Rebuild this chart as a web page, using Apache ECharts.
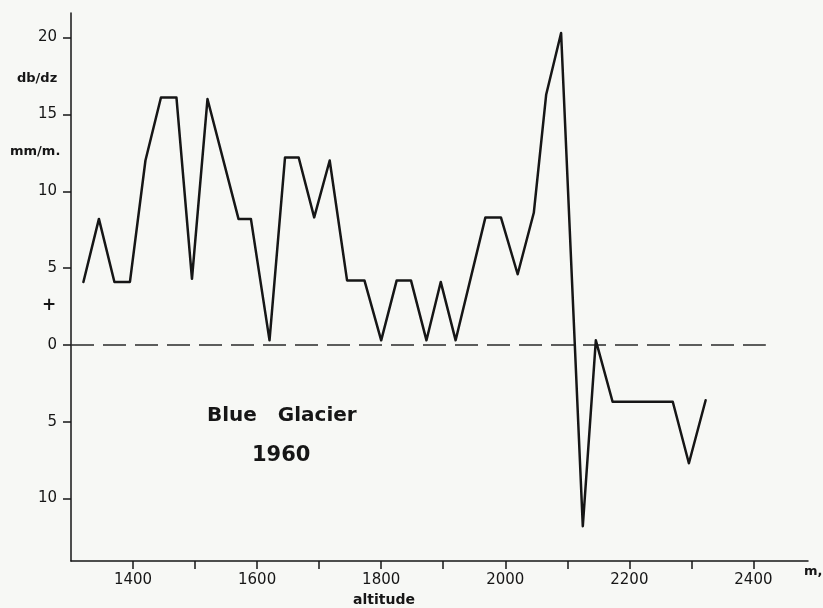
<!DOCTYPE html>
<html>
<head>
<meta charset="utf-8">
<script src="https://cdn.jsdelivr.net/npm/echarts@6/dist/echarts.min.js"></script>
<style>
  html, body { margin: 0; padding: 0; background: #f7f8f5; }
  #chart { width: 823px; height: 608px; }
</style>
</head>
<body>
<div id="chart"></div>
<script>
// Data
var altitudes = [1320, 1345, 1370, 1395, 1420, 1445, 1470, 1495, 1520, 1570, 1590, 1620, 1645, 1667, 1692, 1717, 1745, 1773, 1800, 1825, 1848, 1873, 1896, 1920, 1968, 1993, 2020, 2046, 2066, 2090, 2125, 2146, 2173, 2270, 2296, 2323];
var dbdz = [4.1, 8.2, 4.1, 4.1, 12.0, 16.1, 16.1, 4.3, 16.0, 8.2, 8.2, 0.3, 12.2, 12.2, 8.3, 12.0, 4.2, 4.2, 0.3, 4.2, 4.2, 0.3, 4.1, 0.3, 8.3, 8.3, 4.6, 8.6, 16.3, 20.3, -11.8, 0.3, -3.7, -3.7, -7.7, -3.6];
var zeroLineAlt = [1300, 2420];
var zeroLineVal = [0, 0];
var xTickValues = [1400, 1500, 1600, 1700, 1800, 1900, 2000, 2100, 2200, 2300, 2400];
var xTickLabels = [1400, 1600, 1800, 2000, 2200, 2400];
var yTickValues = [-10, -5, 0, 5, 10, 15, 20];
var yTickLabels = [-10, -5, 0, 5, 10, 15, 20];

var ink = '#161616';
var fontFam = '"DejaVu Sans", "Liberation Sans", sans-serif';

var chart = echarts.init(document.getElementById('chart'), null, { renderer: 'canvas' });

var lineData = altitudes.map(function (a, i) { return [a, dbdz[i]]; });
var zeroData = zeroLineAlt.map(function (a, i) { return [a, zeroLineVal[i]]; });

var option = {
  backgroundColor: '#f7f8f5',
  animation: false,
  grid: { left: 71, right: 15, top: 13, bottom: 47, containLabel: false },
  xAxis: {
    type: 'value',
    min: 1300,
    max: 2488,
    splitLine: { show: false },
    axisLine: { show: true, onZero: false, lineStyle: { color: ink, width: 1.5 } },
    axisTick: { show: true, length: 8, inside: false, customValues: xTickValues, lineStyle: { color: ink, width: 1.5 } },
    axisLabel: {
      show: true, customValues: xTickLabels, margin: 12, color: ink, fontSize: 15, fontFamily: fontFam,
      formatter: function (v) { return String(v); }
    }
  },
  yAxis: {
    type: 'value',
    min: -14.06,
    max: 21.6,
    splitLine: { show: false },
    axisLine: { show: true, onZero: false, lineStyle: { color: ink, width: 1.5 } },
    axisTick: { show: true, length: 8, inside: false, customValues: yTickValues, lineStyle: { color: ink, width: 1.5 } },
    axisLabel: {
      show: true, customValues: yTickLabels, margin: 14, color: ink, fontSize: 15, fontFamily: fontFam,
      formatter: function (v) { return String(Math.abs(v)); }
    }
  },
  series: [
    {
      type: 'line',
      data: zeroData,
      symbol: 'none',
      silent: true,
      lineStyle: { color: '#2a2a2a', width: 1.5, type: [23, 9] },
      z: 1
    },
    {
      type: 'line',
      data: lineData,
      symbol: 'none',
      lineStyle: { color: ink, width: 2.5, join: 'round', cap: 'round' },
      z: 2
    }
  ],
  graphic: [
    { type: 'text', left: 17, top: 72, style: { text: 'db/dz', fill: ink, font: 'bold 13px ' + fontFam } },
    { type: 'text', left: 10, top: 145, style: { text: 'mm/m.', fill: ink, font: 'bold 13px ' + fontFam } },
    { type: 'text', left: 42, top: 297, style: { text: '+', fill: ink, font: 'bold 17px ' + fontFam } },
    { type: 'text', left: 207, top: 406, style: { text: 'Blue   Glacier', fill: ink, font: 'bold 20px ' + fontFam } },
    { type: 'text', left: 252, top: 445, style: { text: '1960', fill: ink, font: 'bold 21px ' + fontFam } },
    { type: 'text', left: 353, top: 593, style: { text: 'altitude', fill: ink, font: 'bold 14px ' + fontFam } },
    { type: 'text', left: 804, top: 565, style: { text: 'm,', fill: ink, font: 'bold 13px ' + fontFam } }
  ]
};

chart.setOption(option);
</script>
</body>
</html>
